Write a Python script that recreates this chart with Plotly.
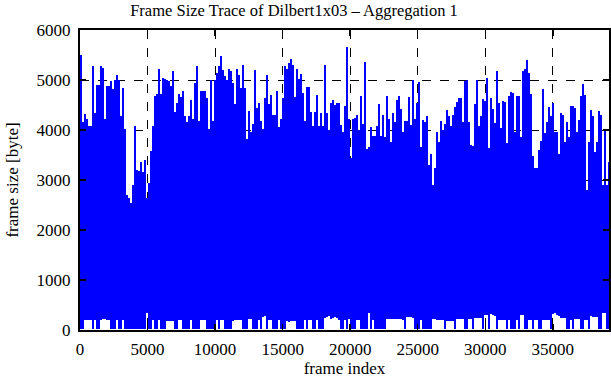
import numpy as np
import plotly.graph_objects as go

# Per-bin envelope of the frame size trace (bytes).
# Each bin covers FRAMES_PER_BIN consecutive frames.
FRAMES_PER_BIN = 148

frame_max = [
    # frames 0 - 6500
    5500, 4160, 4320, 4220, 4090, 4090, 5280, 4340, 4910, 4910,
    5280, 5240, 4220, 4880, 4880, 4980, 4820, 5010, 5110, 5010,
    4290, 4850, 4030, 2710, 2640, 2550, 2910, 4090, 3200, 3180,
    3360, 3170, 3400, 2650, 2940, 3580, 4090, 4680, 4720, 5220,
    4720, 5050, 5030, 5000,
    # frames 6500 - 13000
    4980, 4880, 5180, 4355, 4550, 4720, 4670, 4780, 4290, 4160,
    4280, 4600, 4220, 4950, 5290, 4190, 4780, 4780, 4780, 4650,
    4030, 5010, 4190, 5010, 5140, 5280, 5490, 5210, 5080, 5010,
    5220, 5180, 4950, 4520, 5220, 5110, 4850, 5310, 4850, 3830,
    4390, 3960, 4120, 5200,
    # frames 13000 - 19400
    4450, 4540, 4190, 4030, 4650, 5110, 4520, 4700, 4300, 4300,
    4780, 4060, 4220, 4650, 5290, 5220, 5350, 5430, 5310, 4670,
    5220, 5030, 5130, 4750, 4190, 4860, 4860, 4370, 4090, 4370,
    4700, 4090, 4340, 4090, 5310, 4340, 4010, 4540, 4600, 4510,
    4540, 4540, 4100,
    # frames 19400 - 25900
    3970, 4490, 5670, 4220, 3450, 4220, 4240, 4300, 4000, 4680,
    4120, 5370, 3630, 3660, 4070, 3890, 3890, 4090, 4520, 3890,
    4300, 3860, 4680, 4220, 3760, 4350, 4170, 4600, 4680, 4430,
    3960, 4190, 4190, 4670, 4100, 5010, 4220, 4540, 4960, 3660,
    4210, 4170, 4290, 3300,
    # frames 25900 - 32300
    3520, 2910, 3240, 3970, 3760, 4190, 4010, 4120, 4410, 4280,
    4080, 4300, 4470, 4570, 4650, 4650, 4160, 4980, 5010, 4160,
    3700, 3680, 4520, 5000, 4090, 4280, 4630, 4590, 5050, 3640,
    4650, 4420, 4140, 5180, 4540, 4040, 4590, 4570, 3750, 4680,
    4760, 4750, 3970,
    # frames 32300 - 39200
    4680, 4680, 3860, 5180, 5220, 5400, 5140, 4720, 3480, 3240,
    3240, 3600, 3780, 4820, 3950, 4160, 4470, 4290, 4540, 3970,
    3970, 3530, 4340, 4300, 3760, 4160, 3860, 4490, 4490, 4450,
    3970, 4210, 4680, 4930, 4700, 2800, 3760, 4410, 4280, 3570,
    3760, 4390, 4300, 2910, 4030, 2910, 3370,
]

frame_min = [
    20, 20, 200, 200, 200, 200, 20, 200, 20, 20,
    210, 220, 220, 210, 200, 20, 20, 20, 200, 20,
    20, 200, 20, 20, 20, 20, 20, 20, 20, 20,
    20, 20, 20, 350, 20, 20, 200, 20, 20, 200,
    20, 20, 20, 180, 180, 180, 180, 20, 20, 200,
    200, 20, 20, 20, 20, 200, 20, 20, 20, 20,
    200, 200, 200, 20, 20, 20, 20, 20, 200, 20,
    200, 200, 20, 20, 20, 20, 190, 200, 200, 200,
    200, 20, 20, 20, 220, 220, 20, 20, 20,

    200, 20, 260, 290, 20, 200, 200, 20, 20, 20,
    200, 20, 20, 20, 180, 170, 180, 190, 190, 20,
    20, 20, 20, 200, 20, 200, 200, 20, 20, 200,
    20, 20, 20, 240, 260, 280, 230, 250, 270, 240,
    200, 20, 20, 200, 20, 220, 20, 20, 20, 210,
    200, 20, 20, 20, 20, 350, 20, 200, 20, 20,
    20, 20, 20, 20, 220, 220, 230, 230, 230, 230,
    220, 220, 200, 20, 260, 270, 260, 250, 20, 20,
    20, 200, 20, 20, 20, 20, 20,

    220, 220, 210, 200, 210, 200, 20, 190, 190, 190,
    190, 20, 220, 230, 220, 220, 20, 20, 230, 230,
    20, 250, 250, 250, 250, 20, 300, 300, 20, 330,
    300, 280, 20, 200, 200, 200, 200, 20, 200, 20,
    20, 20, 200, 20, 300, 300, 20, 20, 200, 200,
    20, 200, 200, 20, 20, 200, 200, 200, 200, 20,
    320, 350, 300, 280, 250, 250, 250, 20, 20, 200,
    20, 220, 220, 220, 20, 20, 200, 200, 20, 280,
    270, 260, 260, 20, 20, 350, 350, 20, 20,
]

x_ticks = [0, 5000, 10000, 15000, 20000, 25000, 30000, 35000]
x_tick_labels = ["0", "5000", "10000", "15000", "20000", "25000", "30000", "35000"]
y_ticks = [0, 1000, 2000, 3000, 4000, 5000, 6000]
y_tick_labels = ["0", "1000", "2000", "3000", "4000", "5000", "6000"]

n = min(len(frame_max), len(frame_min))
fmax = np.array(frame_max[:n], dtype=float)
fmin = np.array(frame_min[:n], dtype=float)
bin_center = (np.arange(n) + 0.5) * FRAMES_PER_BIN

FONT = "Liberation Serif"

fig = go.Figure()
fig.add_trace(go.Bar(
    x=bin_center,
    y=fmax - fmin,
    base=fmin,
    width=FRAMES_PER_BIN * 1.05,
    marker=dict(color="#0000ff", line=dict(width=0)),
    showlegend=False,
    hoverinfo="skip",
))

axis_common = dict(
    showline=True, linecolor="black", linewidth=2, mirror="ticks",
    ticks="inside", ticklen=6, tickwidth=1.5, tickcolor="black",
    showgrid=True, gridcolor="black", gridwidth=1, griddash="dash",
    zeroline=False, automargin=False,
    tickfont=dict(family=FONT, size=17, color="black"),
)

fig.update_layout(
    width=611, height=380,
    margin=dict(l=80, r=2, t=30, b=50),
    paper_bgcolor="white", plot_bgcolor="white",
    bargap=0,
    hovermode=False,
    title=dict(
        text="Frame Size Trace of Dilbert1x03 – Aggregation 1",
        font=dict(family=FONT, size=16.5, color="black"),
        x=294 / 611, xref="container", xanchor="center",
        y=1 - 10 / 380, yref="container", yanchor="middle",
    ),
    xaxis=dict(
        range=[0, 39160], tickvals=x_ticks, ticktext=x_tick_labels,
        ticklabelstandoff=3,
        title=dict(text="frame index", font=dict(family=FONT, size=17, color="black"), standoff=0),
        **axis_common,
    ),
    yaxis=dict(
        range=[0, 6000], tickvals=y_ticks, ticktext=y_tick_labels,
        ticklabelstandoff=4,
        title=dict(text="frame size [byte]", font=dict(family=FONT, size=17, color="black"), standoff=14),
        **axis_common,
    ),
)

fig.write_html(
    "out.html",
    config={"displayModeBar": False, "staticPlot": True},
    post_script="document.body.style.margin='0';document.body.style.overflow='hidden';",
)
